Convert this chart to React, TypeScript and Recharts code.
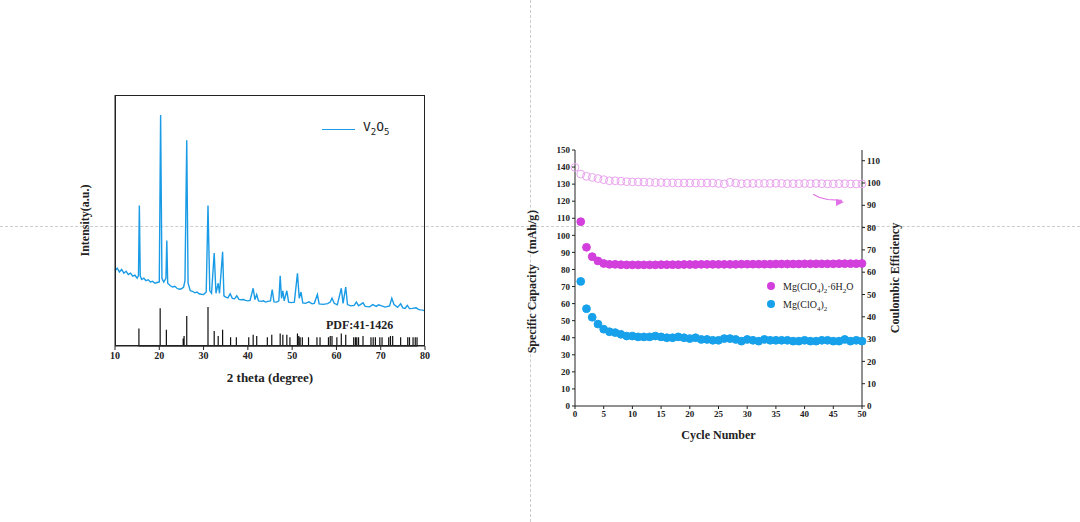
import React from "react";
import { LineChart, Line, XAxis, YAxis, Label, ScatterChart, Scatter } from "recharts";

const xrdPoints: [number, number][] = [
  [10,30],[10.5,31],[11,29.5],[11.5,30.5],[12,29],[12.5,29.8],[13,28.5],[13.5,29],[14,27.8],[14.5,28.2],[15,27],[15.3,28],[15.5,56],[15.7,28],[16,26.5],[16.5,27],[17,26],[17.5,26.4],[18,25.5],[18.5,25.8],[19,25],[19.5,25.3],[20,25.5],[20.3,92],[20.6,27],[21,25.5],[21.5,27],[21.7,42],[21.9,25],[22.5,24],[23,23.5],[23.5,23.8],[24,23],[24.5,22.6],[25,22.8],[25.5,23.5],[25.8,26],[26.2,82],[26.5,25],[27,22],[27.5,21.8],[28,21.2],[28.5,21.5],[29,20.8],[29.5,20.6],[30,20.5],[30.6,21.5],[31,56],[31.4,22],[31.8,21],[32.4,37],[32.8,21],[33.3,25],[33.6,21],[34.3,37.5],[34.6,20],[35,19.5],[35.5,19.2],[36,20.8],[36.5,19],[37,18.8],[37.5,20],[38,18.6],[38.5,18.4],[39,18.5],[39.5,18.2],[40,18],[40.5,18.2],[41.2,23],[41.6,18.5],[42,20.5],[42.4,18],[43,17.8],[43.5,18],[44,17.5],[44.5,17.8],[45.1,18],[45.5,22.5],[45.9,17.6],[46.5,17.5],[47,18],[47.3,28],[47.6,19],[47.9,22],[48.2,18],[48.8,22],[49.2,17.5],[49.8,17.3],[50.5,17.5],[51.2,29],[51.6,19],[52,21.5],[52.4,17.2],[53,17],[53.8,17.6],[54.5,16.8],[55,17],[55.7,20.5],[56.1,16.8],[57,16.6],[58,16.9],[58.6,17.5],[59,19],[59.5,17],[60.2,16.4],[61.1,23],[61.5,17],[62.1,23.5],[62.5,16.5],[63.2,16],[64,16.2],[64.5,17.5],[65,16],[66,17.2],[66.5,15.8],[67.5,15.6],[68.2,16.5],[69,15.8],[69.5,16.4],[70.2,16],[71,15.5],[72,16],[72.5,19],[73,16.5],[73.8,15.4],[74.5,16.8],[75,15.2],[75.5,15],[76,16.2],[76.5,14.9],[77.2,15],[78,15.2],[78.5,14.6],[79,14.4],[79.5,14.3],[80,14],
];

const stickPositions = [15.4,20.2,21.6,25.4,25.6,26.2,31.0,32.4,33.3,34.3,36.1,37.4,40.2,41.2,42.0,44.4,45.4,47.3,47.9,48.8,49.5,51.2,51.5,51.8,52.3,53.7,55.6,56.3,58.2,58.6,59.0,60.1,61.1,62.1,63.9,64.3,64.6,65.0,66.0,67.8,68.3,68.8,69.8,70.3,71.8,72.2,72.7,74.5,76.1,76.5,77.3,77.8,78.2];
const stickHeights = [7,15,6.5,3,4,12,15.5,6,4,6.5,3.5,3.5,3.5,4.5,4,3.5,4.5,5,4.5,4.5,3.5,5,4,3.5,3.5,3.5,3.5,3.5,3.5,4,4,3.5,5,4.5,3.5,3.5,3.5,3.5,4,3.5,3.5,3.5,3.5,3.5,3.5,4,4,3.5,3.5,3.5,3.5,3.5,3.5];

const cycles = Array.from({ length: 51 }, (_, i) => i);
const hydratedCap = [null,108,93,87.5,85,83.5,83,83,82.8,82.7,82.7,82.7,82.7,82.7,82.7,82.8,82.8,82.8,82.8,82.9,82.9,82.9,83,83,83,83,83,83,83,83.1,83.1,83.1,83.1,83.1,83.1,83.2,83.2,83.2,83.2,83.2,83.3,83.3,83.3,83.3,83.3,83.3,83.4,83.4,83.4,83.4,83.5];
const anhydrousCap = [null,73,57,52,48,45,43.5,43,42,41,41,40.5,40.5,40.5,41,40.5,40,40,40.5,40,39.5,40,39,39,38.5,38.5,39.5,39.5,39,38,39,38.5,38,39,38.5,38.5,38.5,38.5,38,38,38.5,38,38,38.5,38.5,38,38,39,38,38.5,38];
const efficiency = [107,104,103,102.5,102,101.5,101,101,100.8,100.6,100.5,100.5,100.4,100.3,100.2,100.2,100.1,100.1,100,100,100,100,100,100,100,99.8,99.6,100.3,100,99.7,99.8,99.8,99.8,99.8,99.8,99.9,99.8,99.7,99.7,99.7,99.8,99.7,99.8,99.7,99.6,99.6,99.7,99.7,99.6,99.6,99.6];
const arrowPts: [number, number][] = [[41.5,95],[42.5,93.6],[44,92.6],[46.5,92.2]];

const xrdData = xrdPoints.map(([x, y]) => ({ x, y }));
const stickData: { x: number; s: number }[] = [];
stickPositions.forEach((p, i) => {
  stickData.push({ x: p, s: 0 }, { x: p, s: stickHeights[i] }, { x: p, s: 0 });
});
const capData = cycles.map((c, i) => ({ c, h: hydratedCap[i], a: anhydrousCap[i], e: efficiency[i] }));
const hData = capData.filter((d) => d.h != null).map((d) => ({ c: d.c, v: d.h }));
const aData = capData.filter((d) => d.a != null).map((d) => ({ c: d.c, v: d.a }));
const eData = capData.map((d) => ({ c: d.c, v: d.e }));
const arrowData = arrowPts.map(([c, v]) => ({ c, v }));

const serif = "'Liberation Serif', 'Times New Roman', serif";
const tickStyle = { fontFamily: serif, fontWeight: 700, fontSize: 10, fill: "#222" };

const Dot = (color: string, hollow = false) => (p: any) => (
  <circle cx={p.cx} cy={p.cy} r={3.9} fill={hollow ? "none" : color} stroke={color} strokeWidth={1} />
);

export default function App() {
  return (
    <div style={{ position: "absolute", left: 0, top: 0, width: 1080, height: 522, background: "#fff", overflow: "hidden" }}>
      <div style={{ position: "absolute", left: 0, top: 226, width: 1080, borderTop: "1px dashed #ccc" }} />
      <div style={{ position: "absolute", left: 530, top: 0, height: 522, borderLeft: "1px dashed #ccc" }} />

      <div style={{ position: "absolute", left: 60, top: 85 }}>
        <LineChart width={380} height={310} margin={{ top: 10, right: 15, left: 35, bottom: 19 }}>
          <XAxis dataKey="x" type="number" domain={[10, 80]} ticks={[10,20,30,40,50,60,70,80]} tick={tickStyle} stroke="#222" tickSize={4} height={30} allowDuplicatedCategory={false}>
            <Label value="2 theta (degree)" position="insideBottom" offset={-6} style={{ fontFamily: serif, fontWeight: 700, fontSize: 13, fill: "#222" }} />
          </XAxis>
          <YAxis type="number" domain={[0, 100]} tick={false} tickLine={false} stroke="#222" width={20}>
            <Label value="Intensity(a.u.)" angle={-90} position="insideLeft" offset={-10} style={{ fontFamily: serif, fontWeight: 700, fontSize: 12, fill: "#222", textAnchor: "middle" }} />
          </YAxis>
          <Line data={stickData} dataKey="s" stroke="#111" strokeWidth={1.2} dot={false} isAnimationActive={false} />
          <Line data={xrdData} dataKey="y" stroke="#1a9be6" strokeWidth={1.4} dot={false} isAnimationActive={false} />
        </LineChart>
        <div style={{ position: "absolute", left: 55, top: 10, width: 310, height: 251, border: "1px solid #222", boxSizing: "border-box", pointerEvents: "none" }} />
        <div style={{ position: "absolute", left: 262, top: 44, width: 33, borderTop: "1.5px solid #1a9be6" }} />
        <div style={{ position: "absolute", left: 303, top: 34, fontFamily: "'DejaVu Sans Mono', monospace", fontSize: 13, color: "#222" }}>V<sub style={{ fontSize: 9 }}>2</sub>O<sub style={{ fontSize: 9 }}>5</sub></div>
        <div style={{ position: "absolute", left: 266, top: 233, fontFamily: serif, fontWeight: 700, fontSize: 12, color: "#222" }}>PDF:41-1426</div>
      </div>

      <div style={{ position: "absolute", left: 520, top: 140 }}>
        <ScatterChart width={390} height={320} margin={{ top: 10, right: 13, left: 20, bottom: 19 }}>
          <XAxis dataKey="c" type="number" domain={[0, 50]} ticks={[0,5,10,15,20,25,30,35,40,45,50]} tick={{ ...tickStyle, fontSize: 9 }} stroke="#222" tickSize={3} height={35}>
            <Label value="Cycle Number" position="insideBottom" offset={2} style={{ fontFamily: serif, fontWeight: 700, fontSize: 12, fill: "#222" }} />
          </XAxis>
          <YAxis yAxisId="l" dataKey="v" type="number" domain={[0, 150]} ticks={[0,10,20,30,40,50,60,70,80,90,100,110,120,130,140,150]} tick={{ ...tickStyle, fontSize: 9 }} stroke="#222" tickSize={3} width={35}>
            <Label value="Specific Capacity （mAh/g）" angle={-90} position="insideLeft" offset={-8} style={{ fontFamily: serif, fontWeight: 700, fontSize: 12, fill: "#222", textAnchor: "middle" }} />
          </YAxis>
          <YAxis yAxisId="r" dataKey="v" orientation="right" type="number" domain={[0, 114.8]} ticks={[0,10,20,30,40,50,60,70,80,90,100,110]} tick={{ ...tickStyle, fontSize: 9 }} stroke="#222" tickSize={3} width={35}>
            <Label value="Coulombic Efficiency" angle={-90} position="insideRight" offset={2} style={{ fontFamily: serif, fontWeight: 700, fontSize: 12, fill: "#222", textAnchor: "middle" }} />
          </YAxis>
          <Scatter yAxisId="r" data={eData} dataKey="v" shape={Dot("#e9a3ee", true)} isAnimationActive={false} />
          <Scatter yAxisId="l" data={hData} dataKey="v" shape={Dot("#d23fdc")} isAnimationActive={false} />
          <Scatter yAxisId="l" data={aData} dataKey="v" shape={Dot("#17a1ea")} isAnimationActive={false} />
          <Scatter yAxisId="r" data={arrowData} dataKey="v" line={{ stroke: "#e070e6", strokeWidth: 1.2 }} lineType="joint" shape={() => null} isAnimationActive={false} />
        </ScatterChart>
        <svg style={{ position: "absolute", left: 316, top: 58 }} width="12" height="10"><path d="M0,1 L8,4 L0,8 Z" fill="#e070e6" /></svg>
        <div style={{ position: "absolute", left: 247, top: 140, fontFamily: serif, fontSize: 10, color: "#222", lineHeight: "13px" }}>
          <div><span style={{ display: "inline-block", width: 8, height: 8, borderRadius: 4, background: "#d23fdc", marginRight: 8 }} />Mg(ClO<sub style={{ fontSize: 7 }}>4</sub>)<sub style={{ fontSize: 7 }}>2</sub>·6H<sub style={{ fontSize: 7 }}>2</sub>O</div>
          <div><span style={{ display: "inline-block", width: 8, height: 8, borderRadius: 4, background: "#17a1ea", marginRight: 8 }} />Mg(ClO<sub style={{ fontSize: 7 }}>4</sub>)<sub style={{ fontSize: 7 }}>2</sub></div>
        </div>
      </div>
    </div>
  );
}
